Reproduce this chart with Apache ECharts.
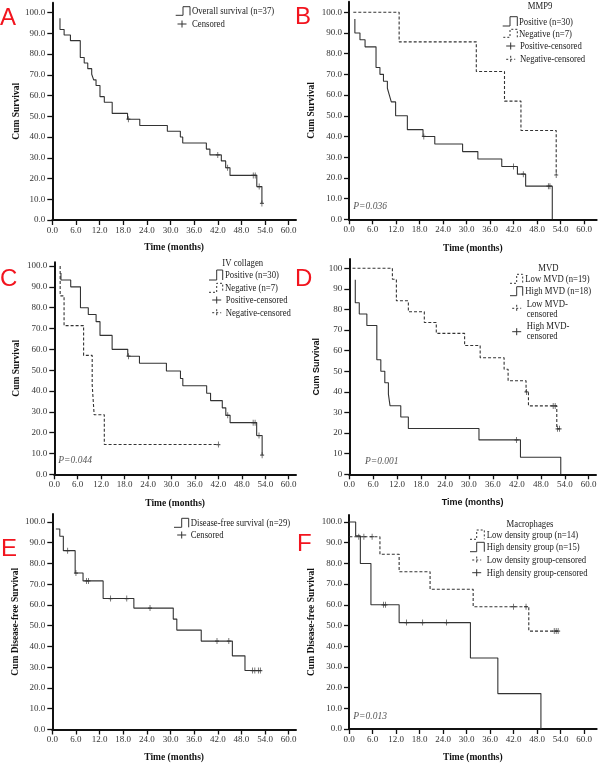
<!DOCTYPE html>
<html>
<head>
<meta charset="utf-8">
<script src="https://cdn.jsdelivr.net/npm/echarts@6/dist/echarts.min.js"></script>
<style>
  html, body { margin: 0; padding: 0; background: #fff; }
  #chart { width: 600px; height: 764px; }
</style>
</head>
<body>
<div id="chart"></div>
<script>
const xTicks = [0, 6, 12, 18, 24, 30, 36, 42, 48, 54, 60];
const yTicks = [0, 10, 20, 30, 40, 50, 60, 70, 80, 90, 100];

// A - overall survival
const aTime = [1.95, 1.95, 3.0, 4.6, 7.1, 8.1, 9.0, 10.0, 10.5, 11.1, 12.1, 13.2, 15.2, 19.1, 22.2, 29.2, 32.5, 33.1, 39.1, 40.0, 42.9, 44.0, 45.1, 51.9, 53.2];
const aSurv = [97.3, 91.9, 89.2, 86.5, 78.4, 75.7, 73.0, 70.3, 67.6, 64.9, 59.5, 56.8, 51.4, 48.6, 45.6, 42.8, 40.0, 37.1, 34.2, 31.4, 28.5, 25.2, 21.5, 16.1, 8.0];
const aCensTime = [19.3, 42.0, 44.5, 51.0, 51.5, 52.5, 53.2];
const aCensSurv = [48.6, 31.4, 25.2, 21.5, 21.5, 16.1, 8.0];

// B - MMP9
const bPosTime = [1.5, 1.5, 2.8, 4.1, 6.9, 7.9, 8.8, 9.8, 10.3, 10.8, 11.9, 14.9, 18.9, 21.9, 29.0, 32.9, 39.0, 43.0, 45.1, 51.9];
const bPosSurv = [96.7, 90.0, 86.7, 83.3, 73.3, 70.0, 66.7, 63.3, 60.0, 56.7, 50.0, 43.3, 40.0, 36.4, 32.7, 29.1, 25.5, 21.8, 16.0, 0];
const bPosCensTime = [19.1, 42.0, 44.5, 50.9, 51.3];
const bPosCensSurv = [40.0, 25.5, 21.8, 16.0, 16.0];
const bNegTime = [1.1, 12.8, 32.5, 39.7, 43.9, 52.9];
const bNegSurv = [100, 85.7, 71.4, 57.1, 42.9, 21.4];
const bNegCensTime = [52.9];
const bNegCensSurv = [21.4];

// C - IV collagen
const cPosTime = [1.7, 1.7, 4.2, 6.7, 8.7, 10.7, 11.7, 14.8, 18.8, 21.8, 28.7, 32.3, 32.9, 39.0, 40.0, 43.0, 43.9, 45.0, 51.8, 53.2];
const cPosSurv = [96.7, 93.3, 90.0, 80.0, 76.7, 73.3, 66.7, 60.0, 56.7, 53.3, 49.6, 46.0, 42.5, 38.9, 35.4, 31.9, 28.3, 24.8, 18.6, 9.2];
const cPosCensTime = [19.0, 44.4, 50.9, 51.4, 52.4, 53.2];
const cPosCensSurv = [56.7, 28.3, 24.8, 24.8, 18.6, 9.2];
const cNegTime = [1.5, 1.5, 2.5, 7.5, 9.7, 10.2, 12.8, 42.0];
const cNegSurv = [100, 85.7, 71.4, 57.1, 42.9, 28.6, 14.3, 14.3];
const cNegCensTime = [42.0];
const cNegCensSurv = [14.3];

// D - MVD
const dLowTime = [0.8, 10.8, 11.8, 14.8, 18.8, 21.8, 28.9, 32.8, 38.8, 39.8, 44.3, 44.9, 52.0, 52.8];
const dLowSurv = [100, 94.7, 84.2, 78.9, 73.7, 68.4, 62.5, 56.6, 51.0, 45.4, 40.0, 33.2, 22.1, 22.1];
const dLowCensTime = [44.4, 51.1, 51.6, 52.2, 52.7];
const dLowCensSurv = [40.0, 33.2, 33.2, 22.1, 22.1];
const dHighTime = [1.5, 1.5, 2.5, 4.4, 6.9, 7.9, 8.9, 9.8, 10.2, 12.9, 14.8, 32.5, 42.9, 53.0];
const dHighSurv = [94.4, 83.3, 77.8, 72.2, 55.6, 50.0, 44.4, 38.9, 33.3, 27.8, 22.2, 16.7, 8.3, 0];
const dHighCensTime = [41.9];
const dHighCensSurv = [16.7];

// E - disease-free survival
const eTime = [0.9, 1.9, 2.8, 5.8, 7.8, 12.9, 20.7, 30.7, 31.6, 37.8, 45.7, 48.9, 53.0];
const eSurv = [96.6, 93.1, 86.2, 75.4, 71.6, 63.1, 58.5, 53.2, 47.9, 42.6, 35.5, 28.4, 28.4];
const eCensTime = [3.9, 6.0, 8.7, 9.2, 14.8, 18.9, 24.8, 41.8, 44.8, 50.8, 51.4, 52.3, 52.8];
const eCensSurv = [86.2, 75.4, 71.6, 71.6, 63.1, 63.1, 58.5, 42.6, 42.6, 28.4, 28.4, 28.4, 28.4];

// F - macrophages
const fLowTime = [0.1, 7.9, 12.8, 20.7, 31.7, 45.9, 53.4];
const fLowSurv = [92.9, 84.4, 76.0, 67.5, 59.1, 47.3, 47.3];
const fLowCensTime = [2.5, 3.8, 5.9, 42.0, 45.2, 52.4, 52.9, 53.4];
const fLowCensSurv = [92.9, 92.9, 92.9, 59.1, 59.1, 47.3, 47.3, 47.3];
const fHighTime = [0, 1.7, 2.9, 5.6, 12.8, 31.0, 38.0, 49.0];
const fHighSurv = [100, 93.3, 80.0, 60.0, 51.4, 34.3, 17.1, 0];
const fHighCensTime = [8.8, 9.3, 14.7, 18.8, 24.9];
const fHighCensSurv = [60, 60, 51.4, 51.4, 51.4];

const SERIF = '"Liberation Serif", "Times New Roman", serif';
const SANS = '"Liberation Sans", Arial, sans-serif';
const INK = '#333';

// panel frames (pixels) and axis extents
const panels = [
  { left: 52.3, top: 2.7, width: 243.7, height: 217.3, xMax: 61.85, yMax: 104.8, yName: 'Cum Survival', yGap: 31, xGap: 23 },
  { left: 349, top: 1.7, width: 247.7, height: 217.6, xMax: 63.24, yMax: 105.1, yName: 'Cum Survival', yGap: 32, xGap: 24 },
  { left: 54.3, top: 262.3, width: 241.7, height: 212, xMax: 61.87, yMax: 101.8, yName: 'Cum Survival', yGap: 33, xGap: 24 },
  { left: 349.3, top: 259, width: 246.7, height: 215.3, xMax: 61.83, yMax: 104.5, yName: 'Cum Survival', yGap: 28, xGap: 24, sans: true },
  { left: 52.3, top: 514, width: 243.7, height: 216, xMax: 61.85, yMax: 103.85, yName: 'Cum Disease-free Survival', yGap: 32, xGap: 23.5 },
  { left: 349, top: 515, width: 247.7, height: 214.3, xMax: 63.24, yMax: 103.4, yName: 'Cum Disease-free Survival', yGap: 32, xGap: 24 }
];

const zip = (t, s) => t.map((v, i) => [v, s[i]]);

const curves = [
  [0, aTime, aSurv, false], [1, bPosTime, bPosSurv, false], [1, bNegTime, bNegSurv, true],
  [2, cPosTime, cPosSurv, false], [2, cNegTime, cNegSurv, true],
  [3, dLowTime, dLowSurv, true], [3, dHighTime, dHighSurv, false],
  [4, eTime, eSurv, false], [5, fLowTime, fLowSurv, true], [5, fHighTime, fHighSurv, false]
];
const censors = [
  [0, aCensTime, aCensSurv], [1, bPosCensTime, bPosCensSurv], [1, bNegCensTime, bNegCensSurv],
  [2, cPosCensTime, cPosCensSurv], [2, cNegCensTime, cNegCensSurv],
  [3, dLowCensTime, dLowCensSurv], [3, dHighCensTime, dHighCensSurv],
  [4, eCensTime, eCensSurv], [5, fLowCensTime, fLowCensSurv], [5, fHighCensTime, fHighCensSurv]
];

const series = [];
curves.forEach(([i, t, s, dashed]) => {
  series.push({
    type: 'line', xAxisIndex: i, yAxisIndex: i, data: zip(t, s),
    step: 'end', symbol: 'none', silent: true,
    lineStyle: { color: INK, width: 1.1, type: dashed ? [3, 2] : 'solid' }
  });
});
censors.forEach(([i, t, s]) => {
  series.push({
    type: 'scatter', xAxisIndex: i, yAxisIndex: i, data: zip(t, s), silent: true,
    symbol: 'path://M3,0L3,6M0,3L6,3', symbolSize: [4, 6],
    itemStyle: { color: 'none', borderColor: INK, borderWidth: 1 }
  });
});

const grid = panels.map(p => ({ left: p.left, top: p.top, width: p.width, height: p.height }));

const xAxis = panels.map((p, i) => ({
  type: 'value', gridIndex: i, min: 0, max: p.xMax,
  axisLine: { show: true, onZero: false, lineStyle: { color: '#111', width: 2 } },
  axisTick: { show: true, length: 5, customValues: xTicks, lineStyle: { color: '#111', width: 1.3 } },
  axisLabel: { customValues: xTicks, formatter: v => v.toFixed(1), fontFamily: SERIF, fontSize: 9, color: INK, margin: 6 },
  splitLine: { show: false },
  name: 'Time (months)', nameLocation: 'middle', nameGap: p.xGap,
  nameTextStyle: { fontFamily: p.sans ? SANS : SERIF, fontWeight: 'bold', fontSize: p.sans ? 9 : 9.5, color: '#111' }
}));

const yAxis = panels.map((p, i) => ({
  type: 'value', gridIndex: i, min: 0, max: p.yMax,
  axisLine: { show: true, onZero: false, lineStyle: { color: '#111', width: 2 } },
  axisTick: { show: true, length: 5, customValues: yTicks, lineStyle: { color: '#111', width: 1.3 } },
  axisLabel: { customValues: yTicks, formatter: v => p.sans ? String(v) : v.toFixed(1), fontFamily: SERIF, fontSize: 9, color: INK, margin: 7 },
  splitLine: { show: false },
  name: p.yName, nameLocation: 'middle', nameGap: p.yGap,
  nameTextStyle: { fontFamily: p.sans ? SANS : SERIF, fontWeight: 'bold', fontSize: p.sans ? 9 : 9.5, color: '#111' }
}));

// legend pieces drawn as graphics
const g = [];
function stepGlyph(x0, x1, x2, yt, yb, dashed) {
  g.push({ type: 'polyline', silent: true,
    shape: { points: [[x0, yb], [x1, yb], [x1, yt], [x2, yt], [x2, yb]] },
    style: { stroke: INK, fill: 'none', lineWidth: 1, lineDash: dashed ? [2, 2] : null } });
}
function plusGlyph(cx, cy, dashed) {
  const st = { stroke: INK, lineWidth: 1, lineDash: dashed ? [2, 2] : null };
  g.push({ type: 'line', silent: true, shape: { x1: cx, y1: cy - 3.5, x2: cx, y2: cy + 3.5 }, style: st });
  g.push({ type: 'line', silent: true, shape: { x1: cx - 4.5, y1: cy, x2: cx + 4.5, y2: cy }, style: st });
}
function label(x, y, text, align) {
  g.push({ type: 'text', silent: true, x: x, y: y, scaleX: 0.79,
    style: { text: text, font: '11px ' + SERIF, fill: '#222', align: align || 'left', textAlign: align || 'left', verticalAlign: 'middle', textVerticalAlign: 'middle' } });
}
function letter(x, y, text) {
  g.push({ type: 'text', silent: true, x: x, y: y,
    style: { text: text, font: '24px ' + SANS, fill: '#f2141e', align: 'left', textAlign: 'left', verticalAlign: 'middle', textVerticalAlign: 'middle' } });
}
function pval(x, y, text) {
  g.push({ type: 'text', silent: true, x: x, y: y,
    style: { text: text, font: 'italic 9.5px ' + SERIF, fill: '#555', align: 'left', textAlign: 'left', verticalAlign: 'middle', textVerticalAlign: 'middle' } });
}

// A
stepGlyph(175.7, 183, 190, 6.7, 15.3, false); label(192, 11.5, 'Overall survival (n=37)');
plusGlyph(182, 24, false); label(192, 24, 'Censored');
// B
label(540, 5.7, 'MMP9', 'center');
stepGlyph(502.7, 510, 517.3, 16.7, 26, false); label(519, 21.7, 'Positive (n=30)');
stepGlyph(503.3, 510, 517.3, 29.3, 37.3, true); label(519, 34, 'Negative (n=7)');
plusGlyph(510.7, 46, false); label(520, 46, 'Positive-censored');
plusGlyph(510.7, 59.3, true); label(520, 59.3, 'Negative-censored');
// C
label(242.7, 263.3, 'IV collagen', 'center');
stepGlyph(209, 216.7, 222.7, 270, 280, false); label(225, 275, 'Positive (n=30)');
stepGlyph(209, 216.7, 222.7, 283.3, 292.3, true); label(225, 287.7, 'Negative (n=7)');
plusGlyph(216.7, 300, false); label(225.7, 300, 'Positive-censored');
plusGlyph(216.7, 312.7, true); label(225.7, 312.7, 'Negative-censored');
// D
label(548.3, 268.3, 'MVD', 'center');
stepGlyph(510, 516.7, 522.7, 274.3, 283.3, true); label(525.3, 279, 'Low MVD (n=19)');
stepGlyph(510, 516.7, 522.7, 286.7, 295.7, false); label(525.3, 291, 'High MVD (n=18)');
plusGlyph(516.7, 308.3, true); label(526.7, 303.7, 'Low MVD-'); label(526.7, 313.7, 'censored');
plusGlyph(516.7, 331.7, false); label(526.7, 326.3, 'High MVD-'); label(526.7, 336.3, 'censored');
// E
stepGlyph(174, 181.7, 188.7, 518.3, 527.3, false); label(190.7, 523.3, 'Disease-free survival (n=29)');
plusGlyph(181.7, 535, false); label(190.7, 535, 'Censored');
// F
label(530, 524, 'Macrophages', 'center');
stepGlyph(470, 476.7, 484.3, 530, 539.3, true); label(486.7, 535, 'Low density group (n=14)');
stepGlyph(470, 476.7, 484.3, 542.3, 551.7, false); label(486.7, 547.3, 'High density group (n=15)');
plusGlyph(476.7, 560, true); label(486.7, 560, 'Low density group-censored');
plusGlyph(476.7, 572.7, false); label(486.7, 572.7, 'High density group-censored');

letter(0, 18, 'A'); letter(295, 17.5, 'B');
letter(0, 279.7, 'C'); letter(295, 279, 'D');
letter(1, 549, 'E'); letter(297, 544, 'F');

pval(353.3, 206.7, 'P=0.036');
pval(58.3, 460.7, 'P=0.044');
pval(365, 461.7, 'P=0.001');
pval(353.3, 716, 'P=0.013');

const chart = echarts.init(document.getElementById('chart'), null, { renderer: 'canvas' });
chart.setOption({
  backgroundColor: '#fff',
  animation: false,
  grid: grid,
  xAxis: xAxis,
  yAxis: yAxis,
  series: series,
  graphic: g
});
</script>
</body>
</html>
